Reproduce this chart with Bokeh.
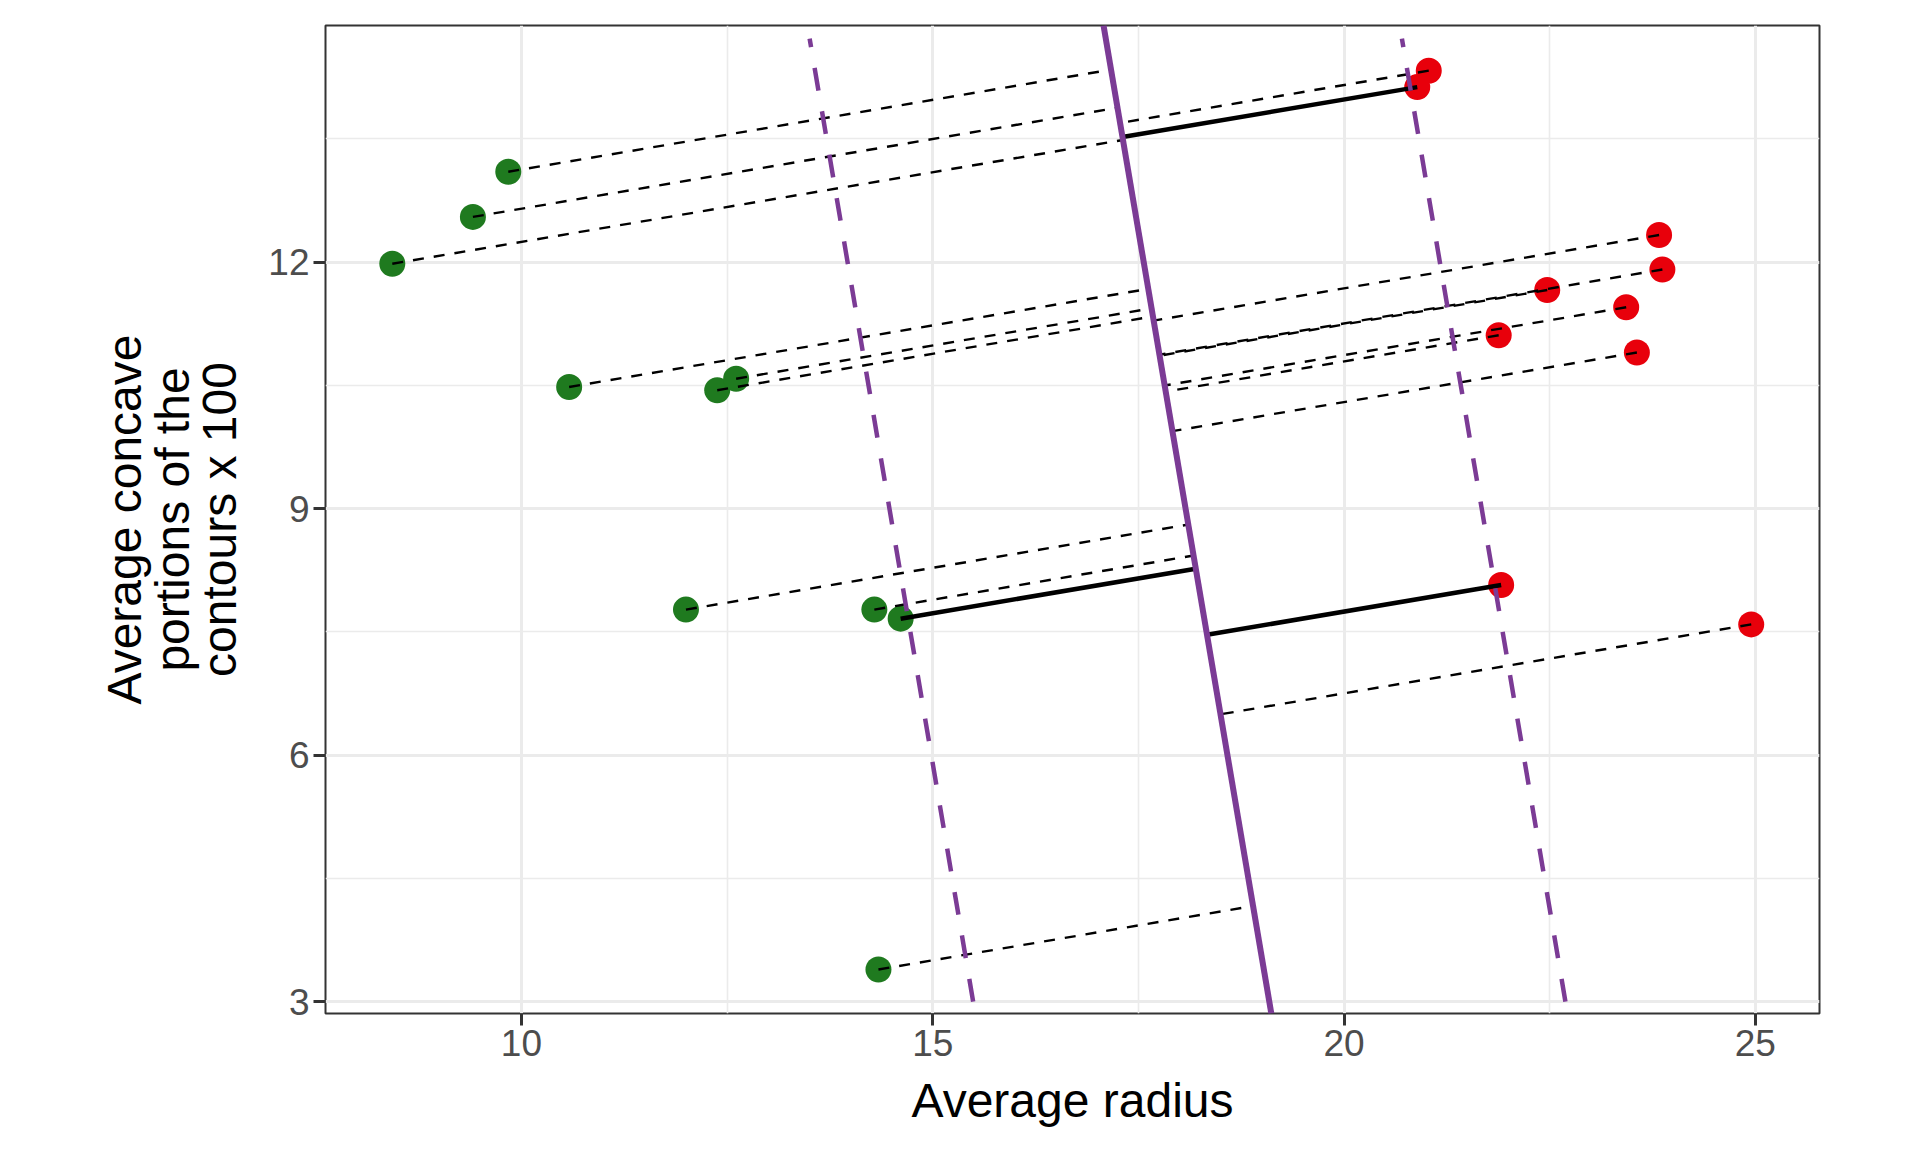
import numpy as np
from bokeh.plotting import figure
from bokeh.models import Range1d, FixedTicker
from bokeh.embed import file_html
from bokeh.resources import INLINE

# ---- data ----
green_x = [8.43, 9.41, 9.84, 10.58, 12.38, 12.61, 12.00, 14.29, 14.61, 14.34]
green_y = [11.98, 12.55, 13.10, 10.48, 10.44, 10.58, 7.77, 7.77, 7.66, 3.39]
red_x = [21.03, 20.89, 23.83, 23.87, 22.47, 23.43, 21.88, 23.56, 21.91, 24.95]
red_y = [14.33, 14.13, 12.33, 11.91, 11.66, 11.45, 11.11, 10.90, 8.07, 7.59]
green_support = [8]
red_support = [1, 8]

# decision boundary: x = boundary_a + boundary_c * y
boundary_a = 19.60
boundary_c = -0.1696
margin_offset = 3.6
margin_y = [3.0, 14.72]

x_ticks = [10, 15, 20, 25]
x_minor = [12.5, 17.5, 22.5]
y_ticks = [3, 6, 9, 12]
y_minor = [4.5, 7.5, 10.5, 13.5]
x_lim = (7.618, 25.78)
y_lim = (2.854, 14.88)

GREEN = "#1f7a1f"
RED = "#e8000b"
PURPLE = "#7b3b95"

p = figure(width=1904, height=1136, output_backend="svg", toolbar_location=None,
           x_range=Range1d(*x_lim), y_range=Range1d(*y_lim),
           min_border_left=325, min_border_right=85, min_border_top=25, min_border_bottom=123)
p.background_fill_color = "white"
p.border_fill_color = "white"
p.outline_line_color = "#333333"
p.outline_line_width = 2

p.xaxis.ticker = FixedTicker(ticks=x_ticks, minor_ticks=x_minor)
p.yaxis.ticker = FixedTicker(ticks=y_ticks, minor_ticks=y_minor)
for g in (p.xgrid, p.ygrid):
    g.grid_line_color = "#EBEBEB"
    g.grid_line_width = 3
    g.minor_grid_line_color = "#EBEBEB"
    g.minor_grid_line_width = 1.6

for ax in (p.xaxis, p.yaxis):
    ax.axis_line_color = None
    ax.major_tick_in = 0
    ax.major_tick_out = 12
    ax.major_tick_line_color = "#333333"
    ax.major_tick_line_width = 3
    ax.minor_tick_line_color = None
    ax.major_label_text_font = "Liberation Sans"
    ax.major_label_text_font_size = "37px"
    ax.major_label_text_color = "#4D4D4D"
    ax.major_label_standoff = 4
    ax.axis_label_text_font = "Liberation Sans"
    ax.axis_label_text_font_size = "48px"
    ax.axis_label_text_font_style = "normal"
    ax.axis_label_text_color = "black"

p.xaxis.axis_label = "Average radius"
p.xaxis.axis_label_standoff = 15
p.yaxis.axis_label = "Average concave\nportions of the\ncontours x 100"
p.yaxis.axis_label_standoff = 19
p.yaxis.axis_label_text_line_height = 0.9

# points
p.scatter(green_x, green_y, size=26, fill_color=GREEN, line_color=None)
p.scatter(red_x, red_y, size=26, fill_color=RED, line_color=None)

# projections onto the boundary
def foot(x, y):
    f = x - boundary_a - boundary_c * y
    t = f / (1 + boundary_c ** 2)
    return x - t, y + t * boundary_c

dash_x0, dash_y0, dash_x1, dash_y1 = [], [], [], []
sol_x0, sol_y0, sol_x1, sol_y1 = [], [], [], []
for xs, ys, sup in ((green_x, green_y, green_support), (red_x, red_y, red_support)):
    for i, (x, y) in enumerate(zip(xs, ys)):
        fx, fy = foot(x, y)
        if i in sup:
            sol_x0.append(x); sol_y0.append(y); sol_x1.append(fx); sol_y1.append(fy)
        else:
            dash_x0.append(x); dash_y0.append(y); dash_x1.append(fx); dash_y1.append(fy)

p.segment(dash_x0, dash_y0, dash_x1, dash_y1, line_color="black", line_width=2.4, line_dash="11 10")
p.segment(sol_x0, sol_y0, sol_x1, sol_y1, line_color="black", line_width=4.5)

# boundary and margins
by = np.array(y_lim)
p.line(boundary_a + boundary_c * by, by, line_color=PURPLE, line_width=6)
my = np.array(margin_y)
for s in (-1, 1):
    p.line(boundary_a + s * margin_offset + boundary_c * my, my, line_color=PURPLE,
           line_width=4.5, line_dash="23 21")

open("out.html", "w").write(file_html(p, INLINE))
